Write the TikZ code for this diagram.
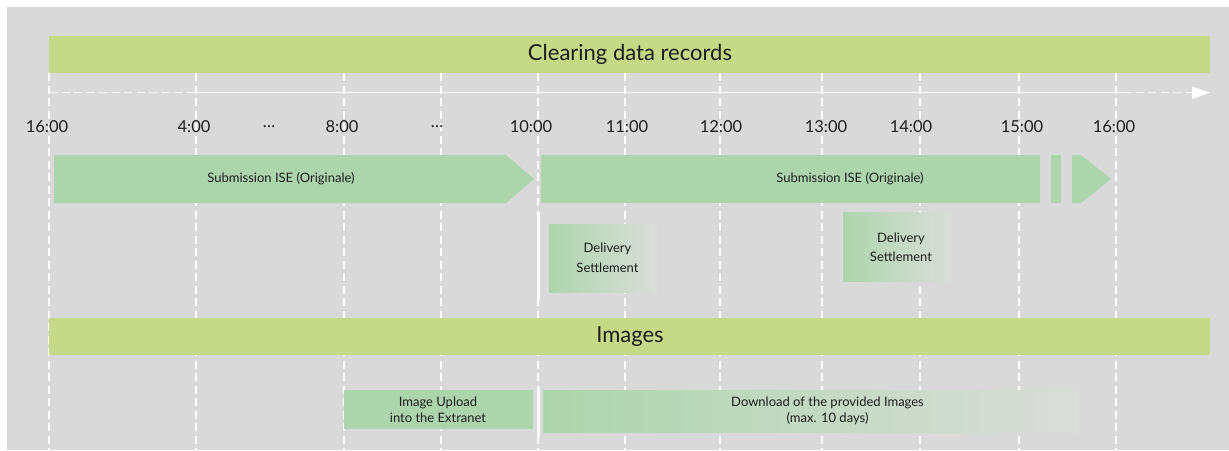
\documentclass[tikz,border=0pt]{standalone}
\usepackage{fontspec}
\setmainfont{Lato}
\usetikzlibrary{arrows.meta}
\definecolor{bggray}{HTML}{D9D9D9}
\definecolor{fadegray}{HTML}{DADDD9}
\definecolor{hdrgreen}{HTML}{C5D987}
\definecolor{subgreen}{HTML}{ADD5AD}
\definecolor{txtgray}{HTML}{1E1E1E}

\begin{document}
\begin{tikzpicture}[x=1pt,y=-1pt,
    every node/.style={text=txtgray,inner sep=0pt},
    hourdash/.style={white,line width=1.5pt,dash pattern=on 8pt off 4.5pt},
    fadebox/.style={left color=subgreen,right color=fadegray},
    small/.style={font=\fontsize{13}{16}\selectfont,align=center}]
\useasboundingbox (0,0) rectangle (1229,450);

% background
\fill[white] (0,0) rectangle (1229,450);
\fill[bggray] (7,7) rectangle (1229,450);

% hour lines
\foreach \x in {49,196,344,441,538,625,720,822,920,1019,1116}
    \draw[hourdash] (\x,73) -- (\x,450);

% headers
\fill[hdrgreen] (49,36) rectangle (1210,72.5);
\node[font=\fontsize{22}{25}\selectfont] (clearing) at (630,54.5)
    {Clearing data records};
\fill[hdrgreen] (49,318) rectangle (1210,355);
\node[font=\fontsize{22}{25}\selectfont] (images) at (630,336.5)
    {Images};

% time axis
\draw[hourdash] (49,92.7) -- (196,92.7);
\draw[white,line width=1.5pt] (196,92.7) -- (1123,92.7);
\draw[hourdash,-{Triangle[length=18pt,width=12pt]}]
    (1123,92.7) -- (1210,92.7);

% hours
\foreach \x/\t [count=\i] in {47/16:00,194/4:00,269/\dots,342/8:00,
    437/\dots,531/10:00,627/11:00,721/12:00,826/13:00,911/14:00,
    1022/15:00,1114/16:00}
    \node[font=\fontsize{16.5}{19}\selectfont] (hour\i) at (\x,127) {\t};

% submission (originale)
\fill[subgreen] (54,155) -- (506,155) -- (534,179) --
    (506,203) -- (54,203) -- cycle;
\node[small] (subA) at (281,179) {Submission ISE (Originale)};
\fill[subgreen] (541,155) rectangle (1040,203);
\fill[subgreen] (1051,155) rectangle (1061,203);
\fill[subgreen] (1072,155) -- (1081,155) -- (1111,179) --
    (1081,203) -- (1072,203) -- cycle;
\node[small] (subB) at (850,179) {Submission ISE (Originale)};

% delivery settlement
\shade[fadebox] (549,224) rectangle (657,292);
\node[small,font=\fontsize{13}{20}\selectfont] (delivA) at (607.5,258)
    {Delivery\\Settlement};
\shade[fadebox] (843,212) rectangle (951,281);
\node[small,font=\fontsize{13}{19}\selectfont] (delivB) at (901,247.5)
    {Delivery\\Settlement};

% 10:00 cut
\draw[white,line width=3pt] (538,213) -- (538,300);
\draw[white,line width=3pt] (538,387) -- (538,437);

% images
\fill[subgreen] (344,390) rectangle (533,429);
\node[small] (upload) at (438,410) {Image Upload\\into the Extranet};
\shade[fadebox] (543,390) rectangle (1078,432);
\node[small] (download) at (827.5,411)
    {Download of the provided Images\\(max. 10 days)};

\end{tikzpicture}
\end{document}
